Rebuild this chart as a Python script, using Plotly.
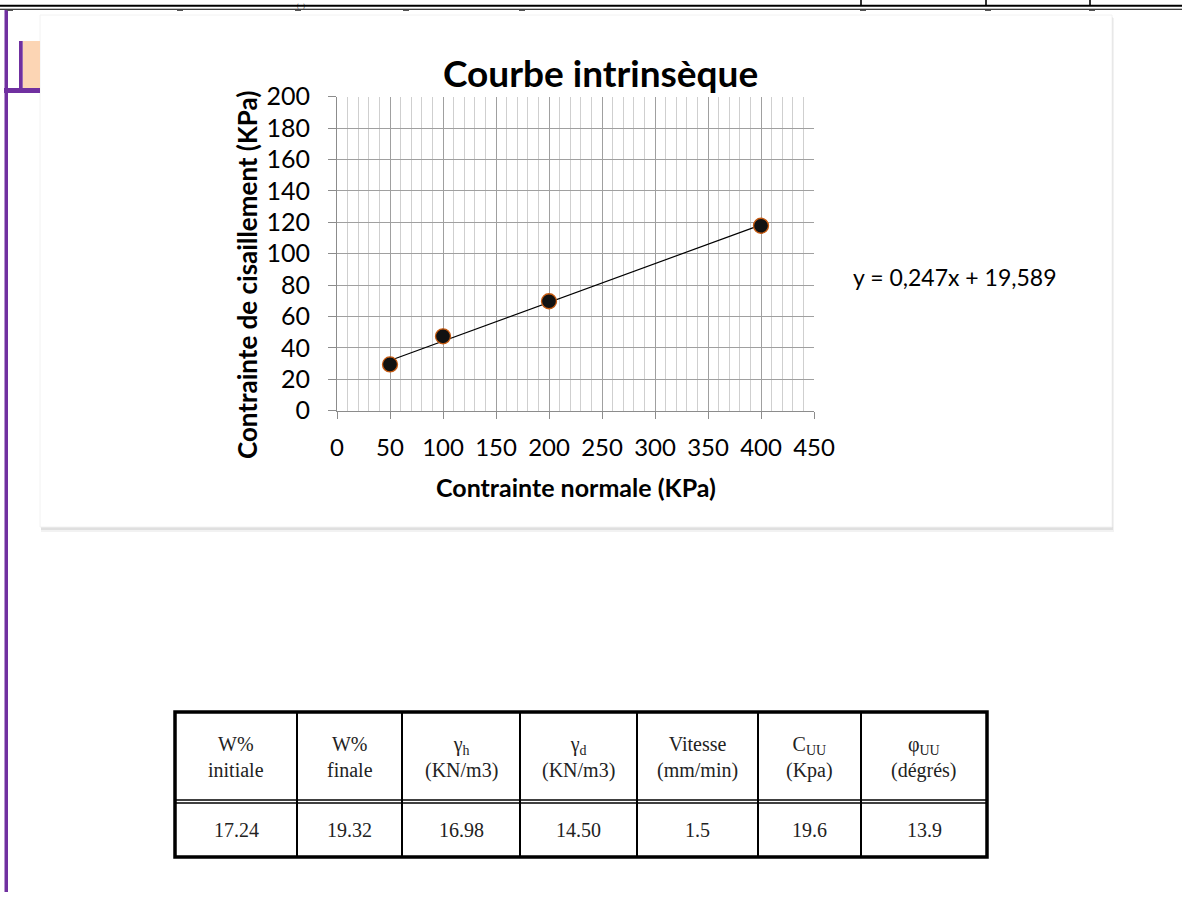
import plotly.graph_objects as go

W, H = 1182, 904

# ---- data ----
normal_stress = [50, 100, 200, 400]           # KPa
shear_stress = [29.5, 47.4, 69.7, 117.8]      # KPa
trend_slope = [0.247]
trend_intercept = [19.589]
trend_x = [50, 400]
equation_text = ["y = 0,247x + 19,589"]

table_headers = ["W%<br>initiale", "W%<br>finale",
                 "γ<sub>h</sub><br>(KN/m3)",
                 "γ<sub>d</sub><br>(KN/m3)",
                 "Vitesse<br>(mm/min)",
                 "C<sub>UU</sub><br>(Kpa)", "φ<sub>UU</sub><br>(dégrés)"]
table_values = ["17.24", "19.32", "16.98", "14.50", "1.5", "19.6", "13.9"]

FONT = "Lato"
SERIF = "Liberation Serif"


def px(x):
    return x / W


def py(y):
    return 1 - y / H


fig = go.Figure()

trend_y = [trend_slope[0] * x + trend_intercept[0] for x in trend_x]
fig.add_trace(go.Scatter(x=trend_x, y=trend_y, mode="lines",
                         line=dict(color="black", width=1.2), hoverinfo="skip", showlegend=False))
fig.add_trace(go.Scatter(x=normal_stress, y=shear_stress, mode="markers",
                         marker=dict(size=15, color="#111111", line=dict(color="#C55A11", width=1.3)),
                         showlegend=False))

shapes = []
# card with soft shadow
shapes.append(dict(type="rect", xref="paper", yref="paper", x0=px(41), x1=px(1114), y0=py(532), y1=py(18),
                   fillcolor="rgba(0,0,0,0.05)", line=dict(width=0), layer="below"))
shapes.append(dict(type="rect", xref="paper", yref="paper", x0=px(41), x1=px(1113), y0=py(530), y1=py(17),
                   fillcolor="rgba(0,0,0,0.08)", line=dict(width=0), layer="below"))
shapes.append(dict(type="rect", xref="paper", yref="paper", x0=px(40), x1=px(1112), y0=py(527), y1=py(15),
                   fillcolor="white", line=dict(color="#f2f2f2", width=1), layer="below"))

purple = "#7030A0"
shapes.append(dict(type="rect", xref="paper", yref="paper", x0=px(4.5), x1=px(8), y0=py(892), y1=py(10),
                   fillcolor=purple, line=dict(width=0)))
shapes.append(dict(type="rect", xref="paper", yref="paper", x0=px(22.7), x1=px(40), y0=py(88), y1=py(41),
                   fillcolor="#FCD5B4", line=dict(width=0)))
shapes.append(dict(type="rect", xref="paper", yref="paper", x0=px(19), x1=px(22.7), y0=py(91), y1=py(41),
                   fillcolor=purple, line=dict(width=0)))
shapes.append(dict(type="rect", xref="paper", yref="paper", x0=px(4), x1=px(40), y0=py(93), y1=py(88),
                   fillcolor=purple, line=dict(width=0)))

# top document lines
shapes.append(dict(type="rect", xref="paper", yref="paper", x0=0, x1=1, y0=py(6.8), y1=py(4.8),
                   fillcolor="black", line=dict(width=0)))
shapes.append(dict(type="rect", xref="paper", yref="paper", x0=0, x1=1, y0=py(9.8), y1=py(8.8),
                   fillcolor="black", line=dict(width=0)))
for xv in [861, 986, 1090]:
    shapes.append(dict(type="rect", xref="paper", yref="paper", x0=px(xv - 0.8), x1=px(xv + 0.8), y0=py(5), y1=1,
                       fillcolor="black", line=dict(width=0)))
for xv in [10, 180, 298, 406, 522, 863, 988, 1092]:
    shapes.append(dict(type="rect", xref="paper", yref="paper", x0=px(xv - 3), x1=px(xv + 3), y0=py(11), y1=py(10),
                       fillcolor="#555555", line=dict(width=0)))

# table grid
col_edges = [175, 297, 402, 520, 637, 758, 861, 987]
row_top, row_bot = 712, 857
for xv in col_edges[1:-1]:
    shapes.append(dict(type="line", xref="paper", yref="paper", x0=px(xv), x1=px(xv), y0=py(row_top), y1=py(row_bot),
                       line=dict(color="black", width=2)))
for yv in [800, 803]:
    shapes.append(dict(type="line", xref="paper", yref="paper", x0=px(col_edges[0]), x1=px(col_edges[-1]),
                       y0=py(yv), y1=py(yv), line=dict(color="black", width=1.5)))
shapes.append(dict(type="rect", xref="paper", yref="paper", x0=px(col_edges[0]), x1=px(col_edges[-1]),
                   y0=py(row_bot), y1=py(row_top), line=dict(color="black", width=3.5)))

annotations = []
annotations.append(dict(text="<b>Courbe intrinsèque</b>", xref="paper", yref="paper", x=px(600), y=py(72),
                        xanchor="center", yanchor="middle", showarrow=False, font=dict(family=FONT, size=37, color="black")))
annotations.append(dict(text="<b>Contrainte normale (KPa)</b>", xref="paper", yref="paper", x=px(576), y=py(487),
                        xanchor="center", yanchor="middle", showarrow=False, font=dict(family=FONT, size=25, color="black")))
annotations.append(dict(text="<b>Contrainte de cisaillement (KPa)</b>", xref="paper", yref="paper", x=px(247), y=py(275),
                        xanchor="center", yanchor="middle", textangle=-90, showarrow=False,
                        font=dict(family=FONT, size=26, color="black")))
annotations.append(dict(text=equation_text[0], xref="paper", yref="paper", x=px(851), y=py(277),
                        xanchor="left", yanchor="middle", showarrow=False, font=dict(family=FONT, size=23, color="black")))
annotations.append(dict(text="(   )", xref="paper", yref="paper", x=px(301), y=1, xanchor="center",
                        yanchor="top", showarrow=False, font=dict(family=FONT, size=6, color="black")))
for i in range(len(table_values)):
    cx = (col_edges[i] + col_edges[i + 1]) / 2
    annotations.append(dict(text=table_headers[i], xref="paper", yref="paper", x=px(cx), y=py(757),
                            xanchor="center", yanchor="middle", showarrow=False,
                            font=dict(family=SERIF, size=20, color="#222222")))
    annotations.append(dict(text=table_values[i], xref="paper", yref="paper", x=px(cx), y=py(830),
                            xanchor="center", yanchor="middle", showarrow=False,
                            font=dict(family=SERIF, size=20, color="#222222")))

fig.update_layout(
    width=W, height=H,
    margin=dict(l=0, r=0, t=0, b=0, pad=0, autoexpand=False),
    paper_bgcolor="white",
    plot_bgcolor="rgba(0,0,0,0)",
    shapes=shapes,
    annotations=annotations,
    showlegend=False,
    xaxis=dict(domain=[px(337), px(814)], range=[0, 450], tick0=0, dtick=50, automargin=False,
               showgrid=True, gridcolor="#a0a0a0", gridwidth=1,
               minor=dict(dtick=10, showgrid=True, gridcolor="#cfcfcf", gridwidth=1),
               showline=True, linecolor="#8c8c8c", linewidth=1,
               ticks="outside", ticklen=7, tickcolor="#8c8c8c",
               tickfont=dict(family=FONT, size=24, color="black"), ticklabelstandoff=8,
               zeroline=False, fixedrange=True),
    yaxis=dict(domain=[py(410.7), py(96.7)], range=[0, 200], tick0=0, dtick=20, automargin=False,
               showgrid=True, gridcolor="#a0a0a0", gridwidth=1,
               showline=True, linecolor="#8c8c8c", linewidth=1,
               ticks="outside", ticklen=8, tickcolor="#8c8c8c",
               tickfont=dict(family=FONT, size=25, color="black"), ticklabelstandoff=13,
               zeroline=False, fixedrange=True),
)

post = ("document.documentElement.style.margin='0';document.body.style.margin='0';"
        "document.documentElement.style.overflow='hidden';document.body.style.overflow='hidden';"
        "var d=document.getElementById('{plot_id}');d.style.position='fixed';d.style.left='0px';d.style.top='0px';")
fig.write_html("out.html", config={"displayModeBar": False}, post_script=post)
